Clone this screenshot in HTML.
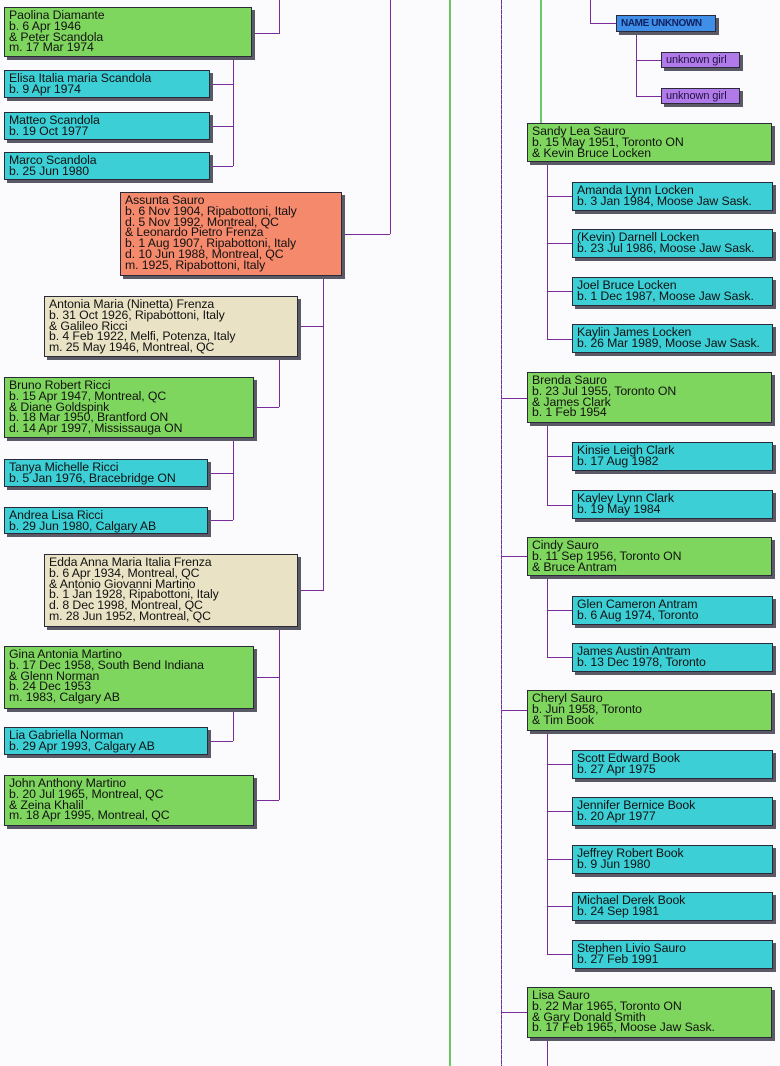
<!DOCTYPE html>
<html><head><meta charset="utf-8"><style>
body{margin:0;width:780px;height:1066px;position:relative;background:#fbfbfd;overflow:hidden}
.b{position:absolute;border:1px solid #2a2a3a;box-shadow:3px 3px 0 #5a5a66;font-family:"Liberation Sans",sans-serif;font-size:12.3px;line-height:10.8px;padding:2px 4px;box-sizing:border-box;color:#111;white-space:nowrap;letter-spacing:-0.1px;overflow:hidden}
.g{background:#7fd65e}.c{background:#3ccfd6}.s{background:#f4896c}.y{background:#e9e2c4}
.n{background:#3f8fe8;font-weight:bold;font-size:10px;color:#102060;letter-spacing:-0.4px}.p{background:#b07ae8;font-size:11px;color:#201040}
.h,.v{position:absolute;background:#7a2c9a}
.h{height:1px}.v{width:1px}
</style></head><body>
<div class="v" style="left:449px;top:0;height:1066px;width:2px;background:#6ac860"></div>
<div class="v" style="left:501px;top:0;height:1066px;background:repeating-linear-gradient(#6a2ea0 0 4px,#a080c0 4px 5px)"></div>
<div class="v" style="left:540px;top:0;height:124px;width:2px;background:#6ac860"></div>
<div class="v" style="left:590px;top:0;height:23px"></div><div class="h" style="left:590px;top:23px;width:27px"></div>
<div class="v" style="left:636px;top:32px;height:64px"></div>
<div class="h" style="left:636px;top:60px;width:26px"></div>
<div class="h" style="left:636px;top:96px;width:26px"></div>

<div class="v" style="left:279px;top:0;height:33px"></div><div class="h" style="left:252px;top:33px;width:28px"></div>
<div class="v" style="left:233px;top:57px;height:109px"></div>
<div class="h" style="left:210px;top:84px;width:23px"></div>
<div class="h" style="left:210px;top:126px;width:23px"></div>
<div class="h" style="left:210px;top:166px;width:23px"></div>
<div class="v" style="left:390px;top:0;height:234px"></div><div class="h" style="left:342px;top:234px;width:48px"></div>
<div class="v" style="left:323px;top:276px;height:315px"></div>
<div class="h" style="left:298px;top:326px;width:25px"></div>
<div class="h" style="left:298px;top:590px;width:25px"></div>
<div class="v" style="left:279px;top:357px;height:50px"></div><div class="h" style="left:254px;top:407px;width:25px"></div>
<div class="v" style="left:233px;top:438px;height:82px"></div>
<div class="h" style="left:208px;top:473px;width:25px"></div>
<div class="h" style="left:208px;top:520px;width:25px"></div>
<div class="v" style="left:279px;top:627px;height:173px"></div>
<div class="h" style="left:254px;top:677px;width:25px"></div>
<div class="h" style="left:254px;top:800px;width:25px"></div>
<div class="v" style="left:233px;top:709px;height:32px"></div><div class="h" style="left:208px;top:741px;width:25px"></div>

<div class="v" style="left:547px;top:162px;height:178px"></div>
<div class="h" style="left:547px;top:196px;width:26px"></div>
<div class="h" style="left:547px;top:243px;width:26px"></div>
<div class="h" style="left:547px;top:291px;width:26px"></div>
<div class="h" style="left:547px;top:339px;width:26px"></div>
<div class="h" style="left:501px;top:398px;width:27px"></div>
<div class="v" style="left:547px;top:423px;height:83px"></div>
<div class="h" style="left:547px;top:456px;width:26px"></div>
<div class="h" style="left:547px;top:505px;width:26px"></div>
<div class="h" style="left:501px;top:556px;width:27px"></div>
<div class="v" style="left:547px;top:576px;height:82px"></div>
<div class="h" style="left:547px;top:610px;width:26px"></div>
<div class="h" style="left:547px;top:657px;width:26px"></div>
<div class="h" style="left:501px;top:710px;width:27px"></div>
<div class="v" style="left:547px;top:731px;height:224px"></div>
<div class="h" style="left:547px;top:764px;width:26px"></div>
<div class="h" style="left:547px;top:811px;width:26px"></div>
<div class="h" style="left:547px;top:859px;width:26px"></div>
<div class="h" style="left:547px;top:906px;width:26px"></div>
<div class="h" style="left:547px;top:954px;width:26px"></div>
<div class="h" style="left:501px;top:1012px;width:27px"></div>
<div class="v" style="left:547px;top:1038px;height:28px"></div>

<div class="b g" style="left:4px;top:7px;width:248px;height:50px">Paolina Diamante<br>b. 6 Apr 1946<br>&amp; Peter Scandola<br>m. 17 Mar 1974</div>
<div class="b c" style="left:4px;top:70px;width:206px;height:28px">Elisa Italia maria Scandola<br>b. 9 Apr 1974</div>
<div class="b c" style="left:4px;top:112px;width:206px;height:28px">Matteo Scandola<br>b. 19 Oct 1977</div>
<div class="b c" style="left:4px;top:152px;width:206px;height:28px">Marco Scandola<br>b. 25 Jun 1980</div>
<div class="b s" style="left:120px;top:192px;width:222px;height:84px">Assunta Sauro<br>b. 6 Nov 1904, Ripabottoni, Italy<br>d. 5 Nov 1992, Montreal, QC<br>&amp; Leonardo Pietro Frenza<br>b. 1 Aug 1907, Ripabottoni, Italy<br>d. 10 Jun 1988, Montreal, QC<br>m. 1925, Ripabottoni, Italy</div>
<div class="b y" style="left:44px;top:296px;width:254px;height:61px">Antonia Maria (Ninetta) Frenza<br>b. 31 Oct 1926, Ripabottoni, Italy<br>&amp; Galileo Ricci<br>b. 4 Feb 1922, Melfi, Potenza, Italy<br>m. 25 May 1946, Montreal, QC</div>
<div class="b g" style="left:4px;top:377px;width:250px;height:61px">Bruno Robert Ricci<br>b. 15 Apr 1947, Montreal, QC<br>&amp; Diane Goldspink<br>b. 18 Mar 1950, Brantford ON<br>d. 14 Apr 1997, Mississauga ON</div>
<div class="b c" style="left:4px;top:459px;width:204px;height:28px">Tanya Michelle Ricci<br>b. 5 Jan 1976, Bracebridge ON</div>
<div class="b c" style="left:4px;top:507px;width:204px;height:27px">Andrea Lisa Ricci<br>b. 29 Jun 1980, Calgary AB</div>
<div class="b y" style="left:44px;top:554px;width:254px;height:73px">Edda Anna Maria Italia Frenza<br>b. 6 Apr 1934, Montreal, QC<br>&amp; Antonio Giovanni Martino<br>b. 1 Jan 1928, Ripabottoni, Italy<br>d. 8 Dec 1998, Montreal, QC<br>m. 28 Jun 1952, Montreal, QC</div>
<div class="b g" style="left:4px;top:646px;width:250px;height:63px">Gina Antonia Martino<br>b. 17 Dec 1958, South Bend Indiana<br>&amp; Glenn Norman<br>b. 24 Dec 1953<br>m. 1983, Calgary AB</div>
<div class="b c" style="left:4px;top:727px;width:204px;height:28px">Lia Gabriella Norman<br>b. 29 Apr 1993, Calgary AB</div>
<div class="b g" style="left:4px;top:775px;width:250px;height:51px">John Anthony Martino<br>b. 20 Jul 1965, Montreal, QC<br>&amp; Zeina Khalil<br>m. 18 Apr 1995, Montreal, QC</div>

<div class="b n" style="left:616px;top:15px;width:100px;height:17px;line-height:11px">NAME UNKNOWN</div>
<div class="b p" style="left:661px;top:52px;width:79px;height:16px;line-height:11px">unknown girl</div>
<div class="b p" style="left:661px;top:88px;width:79px;height:16px;line-height:11px">unknown girl</div>
<div class="b g" style="left:527px;top:123px;width:245px;height:39px">Sandy Lea Sauro<br>b. 15 May 1951, Toronto ON<br>&amp; Kevin Bruce Locken</div>
<div class="b c" style="left:572px;top:182px;width:201px;height:29px">Amanda Lynn Locken<br>b. 3 Jan 1984, Moose Jaw Sask.</div>
<div class="b c" style="left:572px;top:229px;width:201px;height:29px">(Kevin) Darnell Locken<br>b. 23 Jul 1986, Moose Jaw Sask.</div>
<div class="b c" style="left:572px;top:277px;width:201px;height:29px">Joel Bruce Locken<br>b. 1 Dec 1987, Moose Jaw Sask.</div>
<div class="b c" style="left:572px;top:324px;width:201px;height:29px">Kaylin James Locken<br>b. 26 Mar 1989, Moose Jaw Sask.</div>
<div class="b g" style="left:527px;top:372px;width:245px;height:51px">Brenda Sauro<br>b. 23 Jul 1955, Toronto ON<br>&amp; James Clark<br>b. 1 Feb 1954</div>
<div class="b c" style="left:572px;top:442px;width:201px;height:29px">Kinsie Leigh Clark<br>b. 17 Aug 1982</div>
<div class="b c" style="left:572px;top:490px;width:201px;height:29px">Kayley Lynn Clark<br>b. 19 May 1984</div>
<div class="b g" style="left:527px;top:537px;width:245px;height:39px">Cindy Sauro<br>b. 11 Sep 1956, Toronto ON<br>&amp; Bruce Antram</div>
<div class="b c" style="left:572px;top:596px;width:201px;height:29px">Glen Cameron Antram<br>b. 6 Aug 1974, Toronto</div>
<div class="b c" style="left:572px;top:643px;width:201px;height:29px">James Austin Antram<br>b. 13 Dec 1978, Toronto</div>
<div class="b g" style="left:527px;top:690px;width:245px;height:41px">Cheryl Sauro<br>b. Jun 1958, Toronto<br>&amp; Tim Book</div>
<div class="b c" style="left:572px;top:750px;width:201px;height:29px">Scott Edward Book<br>b. 27 Apr 1975</div>
<div class="b c" style="left:572px;top:797px;width:201px;height:29px">Jennifer Bernice Book<br>b. 20 Apr 1977</div>
<div class="b c" style="left:572px;top:845px;width:201px;height:29px">Jeffrey Robert Book<br>b. 9 Jun 1980</div>
<div class="b c" style="left:572px;top:892px;width:201px;height:29px">Michael Derek Book<br>b. 24 Sep 1981</div>
<div class="b c" style="left:572px;top:940px;width:201px;height:29px">Stephen Livio Sauro<br>b. 27 Feb 1991</div>
<div class="b g" style="left:527px;top:987px;width:245px;height:51px">Lisa Sauro<br>b. 22 Mar 1965, Toronto ON<br>&amp; Gary Donald Smith<br>b. 17 Feb 1965, Moose Jaw Sask.</div>
</body></html>
